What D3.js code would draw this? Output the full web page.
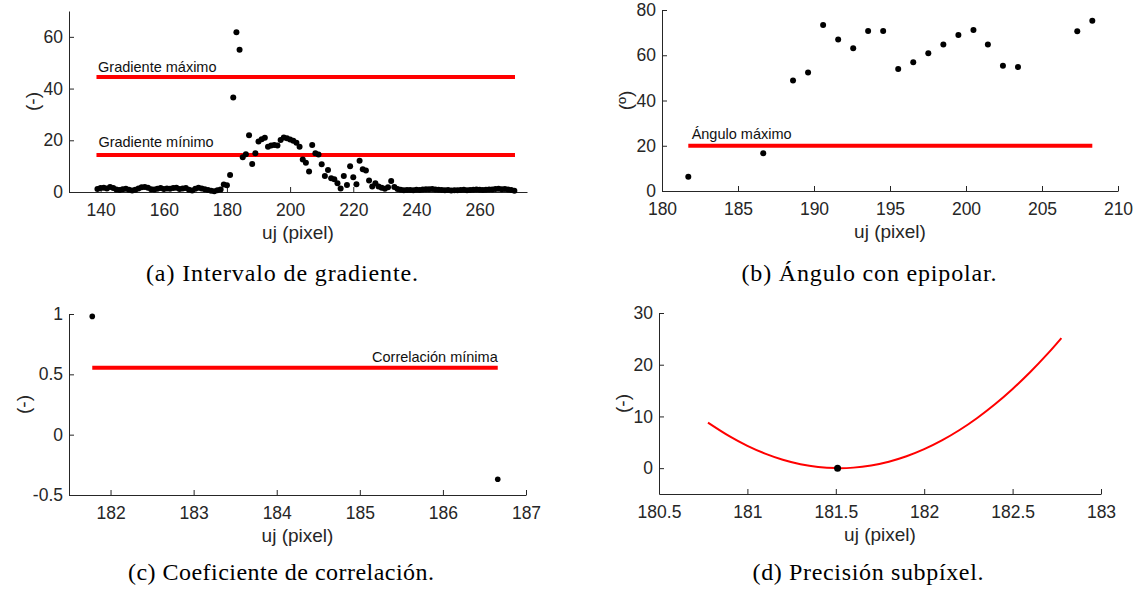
<!DOCTYPE html>
<html>
<head>
<meta charset="utf-8">
<script src="https://cdn.jsdelivr.net/npm/d3@7"></script>
<style>
  body { margin: 0; background: #fff; }
  svg text { font-family: "Liberation Sans", Arial, sans-serif; }
  .cap { font-family: "Liberation Serif", "Times New Roman", serif; }
</style>
</head>
<body>
<div id="chart"></div>
<script>
var width = 1142;
var height = 589;
var axisColor = "#262626";

// (a) gradient interval
var gradU = d3.range(139, 272);
var gradVal = [1.2, 1.5, 1.6, 1.4, 1.9, 1.5, 1.0, 0.8, 1.1, 1.3,
    0.9, 0.6, 0.9, 1.4, 1.8, 1.9, 1.6, 1.1, 1.0, 1.3,
    1.5, 1.2, 1.4, 1.3, 1.5, 1.6, 1.2, 1.4, 1.5, 0.9,
    0.6, 1.3, 1.6, 1.4, 1.1, 0.8, 0.5, 0.3, 0.7, 1.0,
    2.9, 2.6, 6.6, 36.5, 61.8, 55.0, 13.4, 14.6, 21.9, 10.8,
    15.0, 19.5, 20.4, 21.0, 17.5, 18.0, 18.2, 18.0, 20.1, 21.1,
    20.8, 20.3, 19.8, 19.0, 17.5, 12.6, 11.3, 7.9, 18.2, 15.0,
    14.5, 10.7, 6.2, 8.5, 5.3, 4.9, 3.4, 1.4, 6.2, 2.7,
    10.0, 5.7, 3.0, 12.1, 8.8, 8.3, 4.4, 2.1, 3.4, 2.1,
    1.6, 1.3, 1.8, 4.3, 1.9, 1.2, 0.9, 0.7, 0.8, 0.8,
    0.7, 0.9, 0.8, 1.0, 1.1, 1.1, 1.2, 1.0, 0.9, 0.8,
    0.7, 0.8, 0.6, 0.7, 0.7, 0.8, 0.9, 0.7, 0.8, 0.9,
    1.0, 0.9, 0.8, 0.9, 1.0, 1.0, 1.2, 1.3, 1.1, 1.2,
    1.0, 0.8, 0.5];
var gradMax = 44.5;
var gradMin = 14.3;

// (b) angle with epipolar line
var angU = [181.73, 186.66, 188.62, 189.61, 190.6, 191.59, 192.58, 193.56, 194.55,
    195.54, 196.53, 197.52, 198.51, 199.5, 200.49, 201.44, 202.43, 203.42, 207.32, 208.31];
var angVal = [6.3, 16.7, 48.8, 52.4, 73.4, 67.0, 63.1, 70.7, 70.7,
    53.9, 56.9, 60.9, 64.8, 69.0, 71.2, 64.8, 55.4, 54.8, 70.6, 75.3];
var angMax = 20;

// (c) correlation coefficient
var corrU = [181.78, 186.66];
var corrVal = [0.98, -0.37];
var corrMin = 0.555;

// (d) subpixel precision
var fitU = [180.777, 180.9, 181.0, 181.1, 181.2, 181.3, 181.4, 181.5, 181.6, 181.7, 181.8,
    181.9, 182.0, 182.1, 182.2, 182.3, 182.4, 182.5, 182.6, 182.7, 182.776];
var fitVal = [8.8, 6.13, 4.31, 2.81, 1.63, 0.77, 0.23, 0.01, 0.1, 0.52, 1.25,
    2.3, 3.67, 5.36, 7.37, 9.7, 12.34, 15.31, 18.59, 22.19, 25.15];
var subU = [181.51];
var subVal = [0];

const svg = d3.select("#chart")
    .append("svg")
    .attr("width", width)
    .attr("height", height);

function panel(p) {
    var x = d3.scaleLinear().domain(p.xDomain).range(p.xRange);
    var y = d3.scaleLinear().domain(p.yDomain).range(p.yRange);
    var g = svg.append("g");

    var xAxis = g.append("g")
        .attr("transform", "translate(0," + p.yRange[0] + ")")
        .call(d3.axisBottom(x).tickValues(p.xTicks).tickFormat(d => String(d))
            .tickSizeInner(-5).tickSizeOuter(0).tickPadding(11.5));
    var yAxis = g.append("g")
        .attr("transform", "translate(" + p.xRange[0] + ",0)")
        .call(d3.axisLeft(y).tickValues(p.yTicks).tickFormat(d => String(d))
            .tickSizeInner(-5).tickSizeOuter(0).tickPadding(6));
    [xAxis, yAxis].forEach(function (a) {
        a.select(".domain").attr("stroke", axisColor).attr("stroke-width", 1);
        a.selectAll(".tick line").attr("stroke", axisColor);
        a.selectAll(".tick text").attr("fill", axisColor).attr("font-size", 17.5)
            .style("font-family", "Liberation Sans, Arial, sans-serif");
    });

    g.append("text")
        .attr("x", (p.xRange[0] + p.xRange[1]) / 2)
        .attr("y", p.yRange[0] + 47)
        .attr("text-anchor", "middle")
        .attr("font-size", 19)
        .attr("fill", axisColor)
        .text("uj (pixel)");

    g.append("text")
        .attr("transform", "translate(" + p.yLabelX + "," + (p.yRange[0] + p.yRange[1]) / 2 + ") rotate(-90)")
        .attr("text-anchor", "middle")
        .attr("dy", "0.35em")
        .attr("font-size", 19)
        .attr("fill", axisColor)
        .text(p.yLabel);

    g.append("text")
        .attr("class", "cap")
        .attr("x", p.capX)
        .attr("y", p.capY)
        .attr("text-anchor", "middle")
        .attr("font-size", 24)
        .attr("textLength", p.capLen)
        .attr("lengthAdjust", "spacing")
        .attr("fill", "#000")
        .text(p.caption);

    return { g: g, x: x, y: y };
}

function hline(pp, x0, x1, val) {
    pp.g.append("line")
        .attr("x1", pp.x(x0)).attr("x2", pp.x(x1))
        .attr("y1", pp.y(val)).attr("y2", pp.y(val))
        .attr("stroke", "#ff0000")
        .attr("stroke-width", 4);
}

function label(pp, xv, yv, txt, anchor) {
    pp.g.append("text")
        .attr("x", pp.x(xv))
        .attr("y", pp.y(yv))
        .attr("text-anchor", anchor)
        .attr("font-size", 14.5)
        .attr("fill", "#111")
        .text(txt);
}

function dots(pp, us, vals, r) {
    pp.g.selectAll(null)
        .data(us.map((u, i) => [u, vals[i]]))
        .enter().append("circle")
        .attr("cx", d => pp.x(d[0]))
        .attr("cy", d => pp.y(d[1]))
        .attr("r", r)
        .attr("fill", "#000");
}

// (a)
var pa = panel({
    xDomain: [130, 275], xRange: [69, 527],
    yDomain: [0, 70], yRange: [192, 11],
    xTicks: d3.range(140, 261, 20), yTicks: [0, 20, 40, 60],
    yLabel: "(-)", yLabelX: 32,
    caption: "(a) Intervalo de gradiente.", capX: 282, capY: 281, capLen: 272
});
hline(pa, gradU[0] - 0.3, gradU[gradU.length - 1] + 0.2, gradMax);
hline(pa, gradU[0] - 0.3, gradU[gradU.length - 1] + 0.2, gradMin);
label(pa, 139.2, 46.6, "Gradiente máximo", "start");
label(pa, 139.3, 17.3, "Gradiente mínimo", "start");
dots(pa, gradU, gradVal, 3);

// (b)
var pb = panel({
    xDomain: [180, 210], xRange: [662, 1118],
    yDomain: [0, 80], yRange: [191, 10],
    xTicks: d3.range(180, 211, 5), yTicks: [0, 20, 40, 60, 80],
    yLabel: "(º)", yLabelX: 625,
    caption: "(b) Ángulo con epipolar.", capX: 869, capY: 281, capLen: 255
});
hline(pb, angU[0], angU[angU.length - 1], angMax);
label(pb, 181.95, 22.8, "Ángulo máximo", "start");
dots(pb, angU, angVal, 3);

// (c)
var pc = panel({
    xDomain: [181.5, 187], xRange: [69, 526],
    yDomain: [-0.5, 1], yRange: [495, 314],
    xTicks: [182, 183, 184, 185, 186, 187], yTicks: [-0.5, 0, 0.5, 1],
    yLabel: "(-)", yLabelX: 23,
    caption: "(c) Coeficiente de correlación.", capX: 281, capY: 580, capLen: 306
});
hline(pc, corrU[0], corrU[1], corrMin);
label(pc, corrU[1], corrMin + 0.05, "Correlación mínima", "end");
dots(pc, corrU, corrVal, 2.8);

// (d)
var pd = panel({
    xDomain: [180.5, 183], xRange: [659, 1101],
    yDomain: [-5, 30], yRange: [494, 313],
    xTicks: [180.5, 181, 181.5, 182, 182.5, 183], yTicks: [0, 10, 20, 30],
    yLabel: "(-)", yLabelX: 622,
    caption: "(d) Precisión subpíxel.", capX: 868, capY: 580, capLen: 231
});
pd.g.append("path")
    .datum(fitU.map((u, i) => [u, fitVal[i]]))
    .attr("fill", "none")
    .attr("stroke", "#ff0000")
    .attr("stroke-width", 2)
    .attr("d", d3.line().x(d => pd.x(d[0])).y(d => pd.y(d[1])).curve(d3.curveCatmullRom));
dots(pd, subU, subVal, 3.5);
</script>
</body>
</html>
